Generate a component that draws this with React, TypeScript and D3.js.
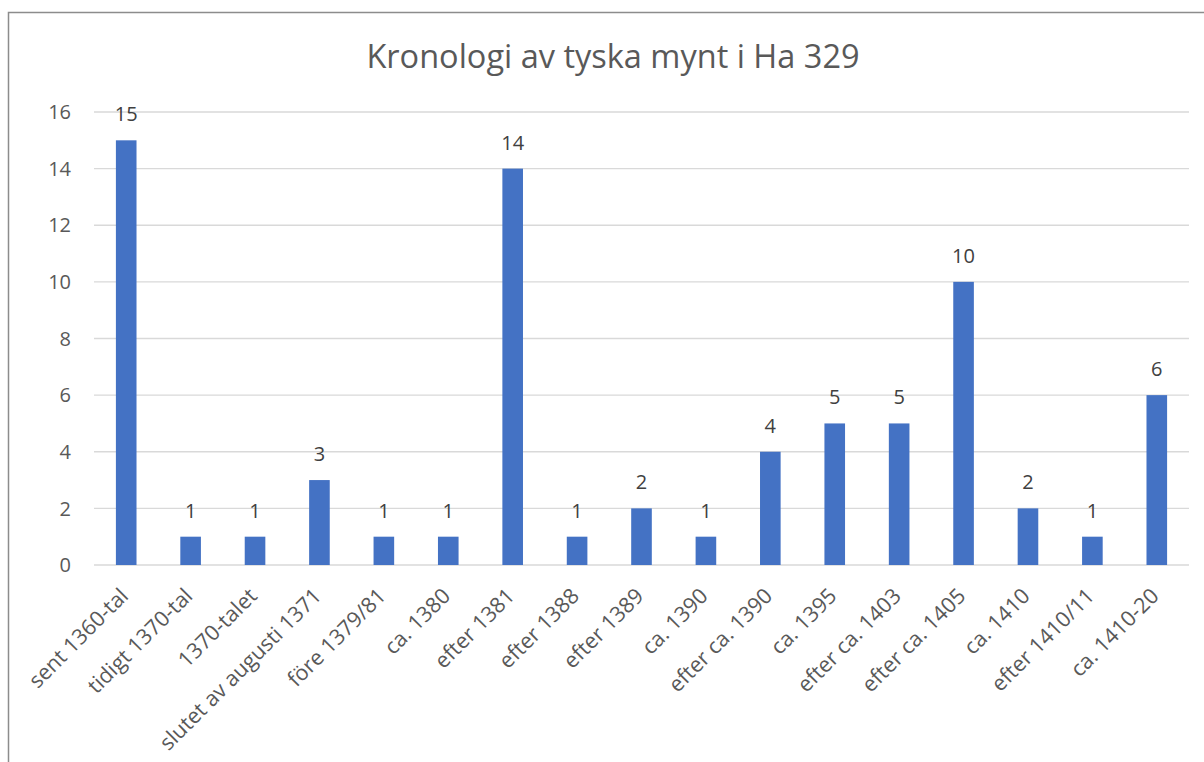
import React, { useEffect, useRef } from 'react';
import * as d3 from 'd3';

const categories = [
  'sent 1360-tal', 'tidigt 1370-tal', '1370-talet', 'slutet av augusti 1371',
  'före 1379/81', 'ca. 1380', 'efter 1381', 'efter 1388', 'efter 1389',
  'ca. 1390', 'efter ca. 1390', 'ca. 1395', 'efter ca. 1403', 'efter ca. 1405',
  'ca. 1410', 'efter 1410/11', 'ca. 1410-20'
];
const counts = [15, 1, 1, 3, 1, 1, 14, 1, 2, 1, 4, 5, 5, 10, 2, 1, 6];
const yTicks = [0, 2, 4, 6, 8, 10, 12, 14, 16];
const title = 'Kronologi av tyska mynt i Ha 329';

const App = () => {
  const ref = useRef<SVGSVGElement>(null);

  useEffect(() => {
    const svg = d3.select(ref.current);
    svg.selectAll('*').remove();

    const width = 1204;
    const height = 762;
    const marginLeft = 94;
    const marginRight = 1189;
    const yTop = 112;
    const yBottom = 565;
    const font = "'Open Sans', 'Segoe UI', sans-serif";

    // chart frame (right and bottom edges fall outside the picture)
    svg.append('path')
      .attr('d', `M8.5,${height + 5}V12.5H${width + 5}`)
      .attr('fill', 'none')
      .attr('stroke', '#8c8c8c')
      .attr('stroke-width', 1.5);

    svg.append('text')
      .attr('x', 613)
      .attr('y', 68)
      .attr('text-anchor', 'middle')
      .attr('font-family', font)
      .attr('font-size', 32.5)
      .attr('fill', '#595959')
      .text(title);

    const x = d3.scaleBand()
      .domain(categories)
      .range([marginLeft, marginRight])
      .paddingInner(0.68)
      .paddingOuter(0.34);

    const y = d3.scaleLinear()
      .domain([0, 16])
      .range([yBottom, yTop]);

    // gridlines
    svg.append('g')
      .selectAll('line')
      .data(yTicks)
      .join('line')
      .attr('x1', marginLeft)
      .attr('x2', marginRight)
      .attr('y1', d => y(d))
      .attr('y2', d => y(d))
      .attr('stroke', '#d9d9d9')
      .attr('stroke-width', 1.3);

    svg.append('g')
      .selectAll('text')
      .data(yTicks)
      .join('text')
      .attr('x', 71)
      .attr('y', d => y(d))
      .attr('dy', '0.36em')
      .attr('text-anchor', 'end')
      .attr('font-family', font)
      .attr('font-size', 20)
      .attr('fill', '#595959')
      .text(d => d);

    const data = categories.map((c, i) => ({ c, v: counts[i] }));

    svg.append('g')
      .selectAll('rect')
      .data(data)
      .join('rect')
      .attr('x', d => x(d.c)!)
      .attr('width', x.bandwidth())
      .attr('y', d => y(d.v))
      .attr('height', d => y(0) - y(d.v))
      .attr('fill', '#4472c4');

    svg.append('g')
      .selectAll('text')
      .data(data)
      .join('text')
      .attr('x', d => x(d.c)! + x.bandwidth() / 2)
      .attr('y', d => y(d.v) - 19)
      .attr('text-anchor', 'middle')
      .attr('font-family', font)
      .attr('font-size', 20)
      .attr('fill', '#404040')
      .text(d => d.v);

    svg.append('g')
      .selectAll('text')
      .data(categories)
      .join('text')
      .attr('transform', d => `translate(${x(d)! + x.bandwidth() / 2 - 2},592) rotate(-45)`)
      .attr('dy', '0.35em')
      .attr('text-anchor', 'end')
      .attr('font-family', font)
      .attr('font-size', 21.5)
      .attr('fill', '#595959')
      .text(d => d);
  }, []);

  return <svg ref={ref} width={1204} height={762} style={{ position: 'absolute', left: 0, top: 0 }} />;
};

export default App;
